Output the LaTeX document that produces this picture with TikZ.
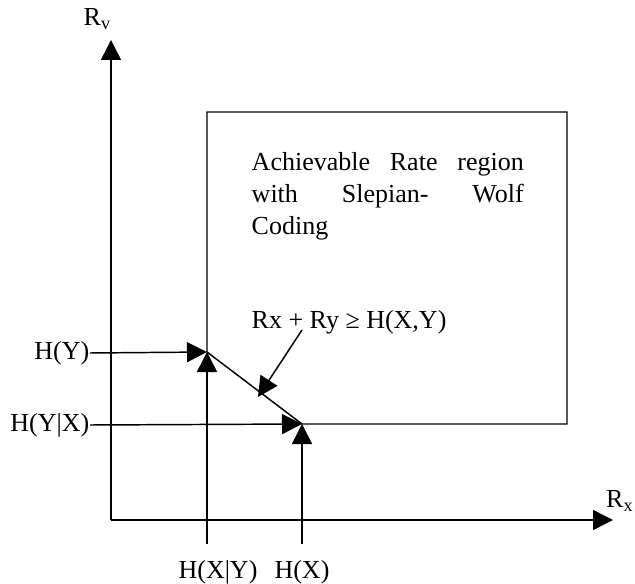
\documentclass[tikz,border=0pt]{standalone}
\usepackage{fontspec}
\setmainfont{Liberation Serif}
\usepackage{tikz}
\usetikzlibrary{positioning, arrows.meta, calc}

\begin{document}
\begin{tikzpicture}[x=0.75pt, y=-0.75pt, line width=1.1pt,
    rate/.style={-{Triangle[length=15pt, width=15pt]}},
    lbl/.style={inner sep=0pt, font=\fontsize{19.5}{24}\selectfont}]
    \useasboundingbox (0,0) rectangle (635,584);
    % axes
    \coordinate (origin) at (111,520);
    \coordinate (ytip) at (111,40);
    \coordinate (xtip) at (613,520);
    \draw[rate] (origin) -- (ytip);
    \draw[rate] (origin) -- (xtip);
    \node[lbl, anchor=west] (Rv) at (83,19) {R\textsubscript{v}};
    \node[lbl, anchor=east] (Rx) at (634,501) {R\textsubscript{x}};

    % corner points of the region
    \coordinate (cornerA) at (207,352);
    \coordinate (cornerB) at (302,424);
    \draw (cornerA) -- (207,112) -- (567,112) -- (567,424) -- (cornerB) -- (cornerA);
    \node[lbl, anchor=north west, text width=204pt, align=left] (region) at (251,152) {%
      \makebox[204pt][l]{Achievable\hfill Rate\hfill region}\\
      \makebox[204pt][l]{with\hfill Slepian-\hfill Wolf}\\
      Coding};

    % entropy labels
    \node[lbl, anchor=east] (HY) at (90,353) {H(Y)};
    \node[lbl, anchor=east] (HYX) at (90,425) {H(Y|X)};
    \node[lbl] (HXY) at (218,572) {H(X|Y)};
    \node[lbl] (HX) at (302,572) {H(X)};
    \coordinate (footA) at (207,544);
    \coordinate (footB) at (302,544);
    \draw[rate] (HY.east) -- (cornerA);
    \draw[rate] (HYX.east) -- (cornerB);
    \draw[rate] (footA) -- (cornerA);
    \draw[rate] (footB) -- (cornerB);

    % sum rate bound
    \node[lbl, anchor=base west] (bound) at (251,329) {Rx + Ry ≥ H(X,Y)};
    \coordinate (pointer) at (302,330);
    \coordinate (hit) at (258,397);
    \draw[rate] (pointer) -- (hit);
\end{tikzpicture}
\end{document}
